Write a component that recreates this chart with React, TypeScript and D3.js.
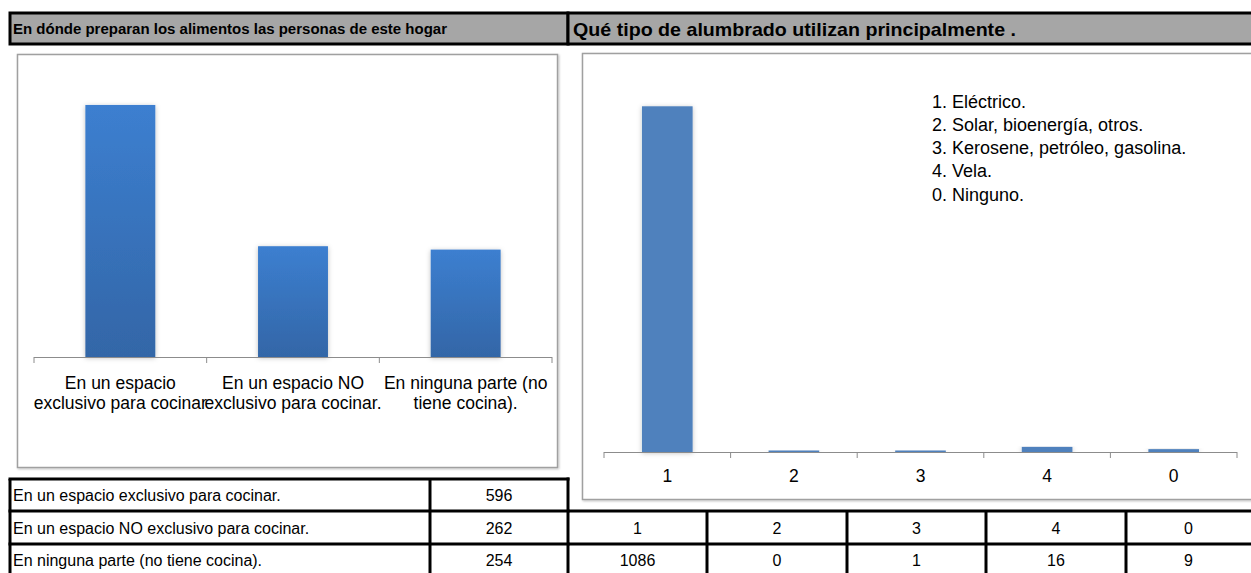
import React from "react";
import * as d3 from "d3";

const cocinaTitle = "En dónde preparan los alimentos las personas de este hogar";
const cocinaCategories = [
  "En un espacio exclusivo para cocinar.",
  "En un espacio NO exclusivo para cocinar.",
  "En ninguna parte (no tiene cocina).",
];
const cocinaAxisLabels = [
  ["En un espacio", "exclusivo para cocinar"],
  ["En un espacio NO", "exclusivo para cocinar."],
  ["En ninguna parte (no", "tiene cocina)."],
];
const cocinaValues = [596, 262, 254];

const alumbradoTitle = "Qué tipo de alumbrado utilizan principalmente .";
const alumbradoCodes = ["1", "2", "3", "4", "0"];
const alumbradoValues = [1086, 0, 1, 16, 9];
const alumbradoLegend = [
  "1. Eléctrico.",
  "2. Solar, bioenergía, otros.",
  "3. Kerosene, petróleo, gasolina.",
  "4. Vela.",
  "0. Ninguno.",
];

const FONT = "'Liberation Sans', Arial, sans-serif";

export default function App() {
  const xL = d3.scaleBand().domain(cocinaCategories).range([34, 552]).paddingInner(0.595).paddingOuter(0.2975);
  const yL = d3.scaleLinear().domain([0, 700]).range([357, 61]);
  const xR = d3.scaleBand().domain(alumbradoCodes).range([604, 1237]).paddingInner(0.6).paddingOuter(0.3);
  const yR = d3.scaleLinear().domain([0, 1200]).range([452, 70]);

  const stepL = (552 - 34) / cocinaCategories.length;
  const stepR = (1237 - 604) / alumbradoCodes.length;

  const rowY = [479, 511, 544, 576];
  const rightCols = [568, 707, 847, 986, 1126, 1254];

  return (
    <svg
      width={1251}
      height={573}
      style={{ position: "absolute", left: 0, top: 0, background: "#fff" }}
    >
      <defs>
        <linearGradient id="gradL" x1="0" y1="0" x2="0" y2="1">
          <stop offset="0" stopColor="#3c7fd0" />
          <stop offset="1" stopColor="#3366a7" />
        </linearGradient>
        <filter id="shadow" x="-30%" y="-10%" width="160%" height="120%">
          <feDropShadow dx="0" dy="1" stdDeviation="2.5" floodColor="#000" floodOpacity="0.25" />
        </filter>
        <filter id="boxshadow" x="-5%" y="-5%" width="110%" height="110%">
          <feDropShadow dx="1" dy="1" stdDeviation="0.8" floodColor="#000" floodOpacity="0.25" />
        </filter>
      </defs>

      {/* headers */}
      <rect x={10} y={13} width={558} height={31} fill="#a6a6a6" stroke="#000" strokeWidth={3} />
      <rect x={568} y={13} width={690} height={31} fill="#a6a6a6" stroke="#000" strokeWidth={3} />
      <text
        x={13}
        y={33.5}
        fontFamily={FONT}
        fontWeight="bold"
        fontSize={14}
        textLength={434}
        lengthAdjust="spacingAndGlyphs"
        fill="#000"
      >
        {cocinaTitle}
      </text>
      <text
        x={573}
        y={36}
        fontFamily={FONT}
        fontWeight="bold"
        fontSize={19}
        textLength={443}
        lengthAdjust="spacingAndGlyphs"
        fill="#000"
      >
        {alumbradoTitle}
      </text>

      {/* left chart box */}
      <rect x={17.5} y={54.5} width={540} height={413} fill="#fff" stroke="#a0a0a0" strokeWidth={1.5} filter="url(#boxshadow)" />
      {cocinaCategories.map((c, i) => (
        <rect
          key={c}
          x={xL(c)}
          y={yL(cocinaValues[i])}
          width={xL.bandwidth()}
          height={yL(0) - yL(cocinaValues[i])}
          fill="url(#gradL)"
          filter="url(#shadow)"
        />
      ))}
      <line x1={34} x2={552} y1={357.5} y2={357.5} stroke="#8c8c8c" strokeWidth={1} />
      {d3.range(cocinaCategories.length + 1).map((i) => (
        <line key={i} x1={34 + i * stepL} x2={34 + i * stepL} y1={357} y2={363} stroke="#8c8c8c" />
      ))}
      {cocinaCategories.map((c, i) => (
        <text key={c} textAnchor="middle" fontFamily={FONT} fontSize={17.5} fill="#000">
          {cocinaAxisLabels[i].map((l, j) => (
            <tspan key={j} x={(xL(c) as number) + xL.bandwidth() / 2} y={389 + j * 20}>
              {l}
            </tspan>
          ))}
        </text>
      ))}

      {/* right chart box */}
      <rect x={582.5} y={53.5} width={680} height={446} fill="#fff" stroke="#a0a0a0" strokeWidth={1.5} filter="url(#boxshadow)" />
      {alumbradoCodes.map((c, i) => {
        const h = Math.max(yR(0) - yR(alumbradoValues[i]), 1.5);
        return (
          <rect
            key={c}
            x={xR(c)}
            y={yR(0) - h}
            width={xR.bandwidth()}
            height={h}
            fill="#4f81bd"
            filter="url(#shadow)"
          />
        );
      })}
      <line x1={604} x2={1237} y1={452.5} y2={452.5} stroke="#8c8c8c" strokeWidth={1} />
      {d3.range(alumbradoCodes.length + 1).map((i) => (
        <line key={i} x1={604 + i * stepR} x2={604 + i * stepR} y1={452} y2={458} stroke="#8c8c8c" />
      ))}
      {alumbradoCodes.map((c) => (
        <text
          key={c}
          x={(xR(c) as number) + xR.bandwidth() / 2}
          y={481.5}
          textAnchor="middle"
          fontFamily={FONT}
          fontSize={17.5}
          fill="#000"
        >
          {c}
        </text>
      ))}
      {alumbradoLegend.map((l, i) => (
        <text key={l} x={932} y={107.5 + i * 23.3} fontFamily={FONT} fontSize={18} fill="#000">
          {l}
        </text>
      ))}

      {/* left table */}
      <rect x={10} y={rowY[0]} width={558} height={rowY[3] - rowY[0]} fill="#fff" />
      {cocinaCategories.map((c, i) => (
        <g key={c}>
          <text x={13} y={(rowY[i] + rowY[i + 1]) / 2 + 6} fontFamily={FONT} fontSize={16} fill="#000">
            {c}
          </text>
          <text x={499} y={(rowY[i] + rowY[i + 1]) / 2 + 6} textAnchor="middle" fontFamily={FONT} fontSize={16} fill="#000">
            {cocinaValues[i]}
          </text>
        </g>
      ))}
      {rowY.map((y, i) => (
        <line key={"lh" + i} x1={8.5} x2={569.5} y1={y} y2={y} stroke="#000" strokeWidth={3} />
      ))}
      <line x1={10} x2={10} y1={rowY[0]} y2={576} stroke="#000" strokeWidth={3} />
      <line x1={430} x2={430} y1={rowY[0]} y2={576} stroke="#000" strokeWidth={3} />
      <line x1={568} x2={568} y1={rowY[0] - 1.5} y2={576} stroke="#000" strokeWidth={3} />

      {/* right table */}
      {alumbradoCodes.map((c, i) => (
        <g key={"rt" + c}>
          <text
            x={(rightCols[i] + Math.min(rightCols[i + 1], 1251)) / 2}
            y={(rowY[1] + rowY[2]) / 2 + 6}
            textAnchor="middle"
            fontFamily={FONT}
            fontSize={16}
            fill="#000"
          >
            {c}
          </text>
          <text
            x={(rightCols[i] + Math.min(rightCols[i + 1], 1251)) / 2}
            y={(rowY[2] + rowY[3]) / 2 + 6}
            textAnchor="middle"
            fontFamily={FONT}
            fontSize={16}
            fill="#000"
          >
            {alumbradoValues[i]}
          </text>
        </g>
      ))}
      {[rowY[1], rowY[2]].map((y, i) => (
        <line key={"rh" + i} x1={568} x2={1251} y1={y} y2={y} stroke="#000" strokeWidth={3} />
      ))}
      {rightCols.slice(1, 5).map((x) => (
        <line key={"rv" + x} x1={x} x2={x} y1={rowY[1]} y2={576} stroke="#000" strokeWidth={3} />
      ))}
    </svg>
  );
}
